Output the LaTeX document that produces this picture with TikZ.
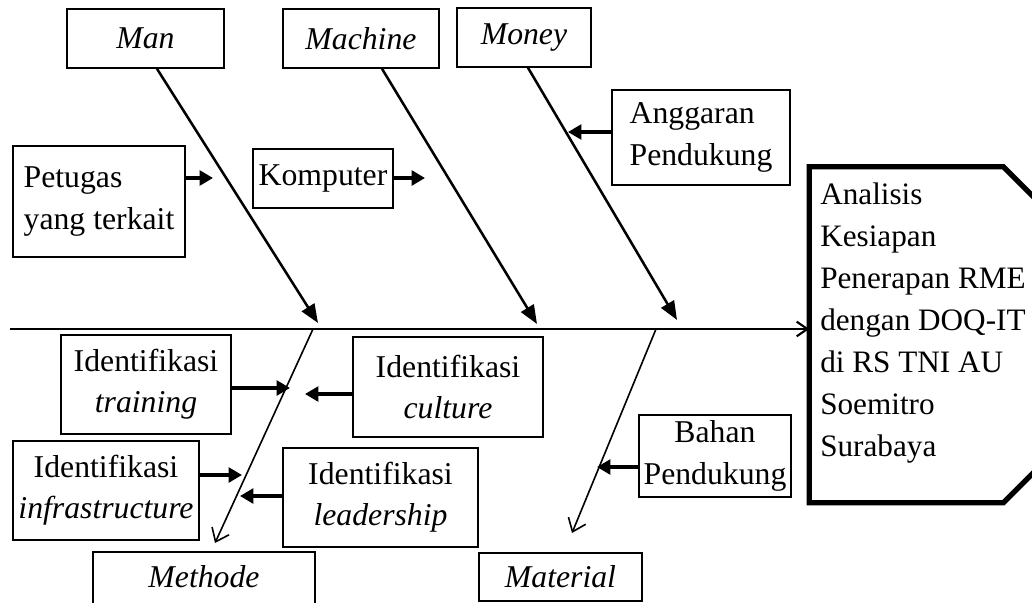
\documentclass[tikz,border=0pt]{standalone}
\usepackage{fontspec}
\setmainfont{Liberation Serif}
\usepackage{tikz}
\usetikzlibrary{arrows.meta}
\usetikzlibrary{calc}
\tikzstyle{cause} = [draw, line width=1.2pt, inner sep=0pt, align=center,
    font=\fontsize{23.8pt}{31pt}\selectfont]
\tikzstyle{bone} = [line width=1.9pt, -{Triangle[length=14pt,width=11pt]}]
\tikzstyle{branch} = [line width=1.2pt, -{Straight Barb[length=9pt,width=14pt]}]
\tikzstyle{sub} = [line width=2.8pt, -{Triangle[length=10pt,width=11pt]}]
\tikzstyle{spine} = [line width=1.6pt, -{Straight Barb[length=8pt,width=11pt]}]

\begin{document}
\begin{tikzpicture}[x=0.75pt,y=-0.75pt]
\useasboundingbox (0,0) rectangle (1032,603);
    %head
    \node[minimum width=187.9pt, minimum height=251.6pt, inner sep=0pt] (head) at (934.75,334.75) {};
    \draw[line width=4pt, line join=miter] (head.south west) -- (head.north west)
        -- ([xshift=-42.75pt]head.north east) -- ([yshift=-42.75pt]head.north east)
        -- ([yshift=42.75pt]head.south east) -- ([xshift=-42.75pt]head.south east) -- cycle;
    \node[anchor=west, align=left, inner sep=0pt,
          font=\fontsize{23.4pt}{31.5pt}\selectfont] (judul) at (820,323)
        {Analisis\\Kesiapan\\Penerapan RME\\dengan DOQ-IT\\di RS TNI AU\\Soemitro\\Surabaya};
    %spine
    \coordinate (ekor) at (10,329);
    \draw[spine] (ekor) -- (ekor -| head.west);
    %main causes
    \node[cause, minimum width=117.75pt, minimum height=44.25pt] (man) at (145.5,38.5) {\textit{Man}};
    \node[cause, minimum width=117pt, minimum height=44.25pt] (machine) at (361,38.5) {\textit{Machine}};
    \node[cause, minimum width=100.5pt, minimum height=44.25pt] (money) at (524,37.5) {\textit{Money}};
    \node[cause, minimum width=122.25pt, minimum height=36pt] (material) at (560.5,577) {\textit{Material}};
    \node[cause, draw=none, minimum width=165pt, minimum height=36pt] (methode) at (204,577) {\textit{Methode}};
    \draw[line width=1.2pt] ([yshift=-30pt]methode.south west) |- (methode.north east)
        -- ([yshift=-30pt]methode.south east);
    %sub causes
    \node[cause, align=left, minimum width=129pt, minimum height=83.25pt] (petugas) at (99,201.5) {Petugas\\yang terkait};
    \node[cause, minimum width=105pt, minimum height=44.25pt] (komputer) at (323,178.5) {Komputer};
    \node[cause, align=left, minimum width=133.5pt, minimum height=71.25pt] (anggaran) at (701,137.5) {Anggaran\\Pendukung};
    \node[cause, minimum width=127.5pt, minimum height=74.25pt] (training) at (146,384.5) {Identifikasi\\\textit{training}};
    \node[cause, minimum width=142.5pt, minimum height=75pt] (culture) at (448,387) {Identifikasi\\\textit{culture}};
    \node[cause, minimum width=139.5pt, minimum height=74.25pt] (infra) at (106,490.5) {Identifikasi\\\textit{infrastructure}};
    \node[cause, minimum width=146.25pt, minimum height=74.25pt] (leader) at (380.5,497.5) {Identifikasi\\\textit{leadership}};
    \node[cause, minimum width=114pt, minimum height=61.5pt] (bahan) at (715,456) {Bahan\\Pendukung};
    %bones
    \coordinate (t1) at (318,323);
    \coordinate (t2) at (537,324);
    \coordinate (t3) at (677,320);
    \draw[bone] ($(man.south)+(11.5,0)$) -- (t1);
    \draw[bone] ($(machine.south)+(21,0)$) -- (t2);
    \draw[bone] ($(money.south)+(4,0)$) -- (t3);
    \coordinate (b1) at (313,329);
    \coordinate (b2) at (656,329);
    \coordinate (t4) at (215,543);
    \coordinate (t5) at (572,533);
    \draw[branch] (b1) -- (t4);
    \draw[branch] (b2) -- (t5);
    %small arrows
    \coordinate (s1) at (213,178);
    \coordinate (s2) at (425,178);
    \coordinate (s3) at (568,132);
    \coordinate (s4) at (290,388);
    \coordinate (s5) at (305,394);
    \coordinate (s6) at (242,475);
    \coordinate (s7) at (240,496);
    \coordinate (s8) at (597,467);
    \draw[sub] (petugas.east |- s1) -- (s1);
    \draw[sub] (komputer.east |- s2) -- (s2);
    \draw[sub] (anggaran.west |- s3) -- (s3);
    \draw[sub] (training.east |- s4) -- (s4);
    \draw[sub] (culture.west |- s5) -- (s5);
    \draw[sub] (infra.east |- s6) -- (s6);
    \draw[sub] (leader.west |- s7) -- (s7);
    \draw[sub] (bahan.west |- s8) -- (s8);
\end{tikzpicture}
\end{document}
